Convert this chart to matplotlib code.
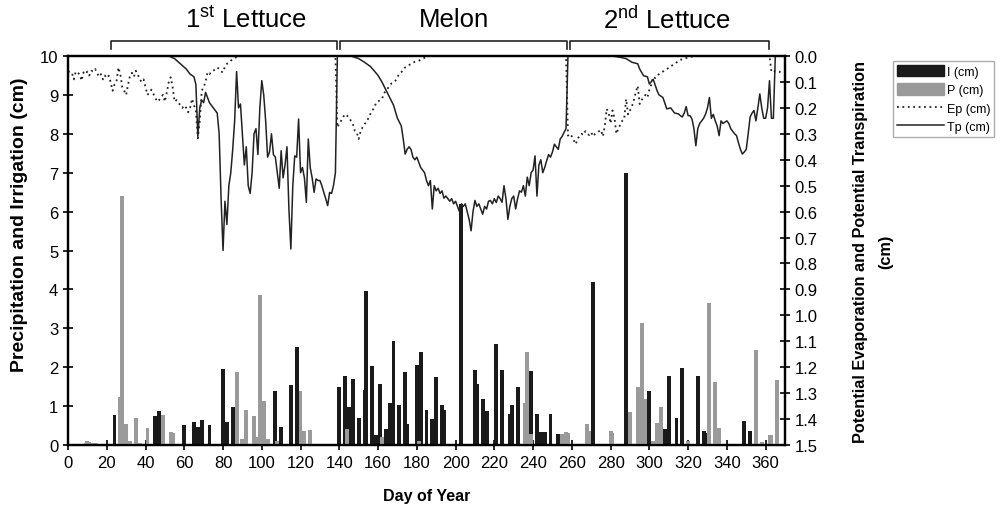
import numpy as np
import matplotlib
matplotlib.use("Agg")
import matplotlib.pyplot as plt
from matplotlib.patches import Patch
from matplotlib.lines import Line2D

plt.rcParams["font.family"] = ["Liberation Sans", "DejaVu Sans"]
plt.rcParams["mathtext.fontset"] = "custom"
plt.rcParams["mathtext.rm"] = "Liberation Sans"

# irrigation (cm), day of year -> depth
i_day = [24, 45, 47, 60, 65, 67, 69, 73, 80, 82, 85, 107, 110, 115, 118,
         140, 143, 145, 147, 150, 153, 154, 157, 159, 161, 164, 166, 168, 171,
         174, 175, 180, 182, 185, 188, 190, 193, 194, 203, 210, 211, 214, 216,
         221, 224, 228, 229, 232, 239, 242, 244, 245, 246, 249, 253,
         271, 288, 300, 308, 310, 314, 317, 325, 328, 329, 349, 352]
i_val = [0.77, 0.75, 0.87, 0.52, 0.6, 0.45, 0.63, 0.52, 1.95, 0.6, 0.97, 1.4, 0.45, 1.54, 2.51,
         1.48, 1.78, 0.97, 1.7, 0.69, 1.41, 3.95, 2.02, 0.26, 1.58, 0.41, 1.08, 2.67, 1.03,
         1.87, 0.54, 2.06, 2.38, 0.91, 0.66, 1.76, 1.04, 0.91, 6.2, 1.93, 1.57, 1.17, 0.87,
         2.6, 1.94, 0.8, 1.03, 1.48, 1.91, 0.79, 0.33, 0.33, 0.33, 0.79, 0.28,
         4.18, 7.0, 1.4, 0.4, 1.78, 0.69, 1.98, 1.77, 0.35, 0.3, 0.61, 0.37]

# precipitation (cm)
p_day = [3, 6, 9, 10, 11, 13, 14, 17, 27, 28, 30, 32, 35, 37, 41, 49, 53, 54,
         87, 90, 92, 96, 97, 99, 101, 103, 108, 120, 122, 125,
         144, 162, 181, 236, 237, 239, 255, 257, 258,
         268, 269, 280, 281, 290, 294, 296, 298, 302, 304, 306, 320,
         331, 334, 336, 355, 358, 362, 363, 366]
p_val = [0.03, 0.03, 0.05, 0.1, 0.08, 0.05, 0.04, 0.03, 1.23, 6.4, 0.55, 0.1, 0.69, 0.05, 0.44, 0.77, 0.34, 0.32,
         1.87, 0.15, 0.9, 0.75, 0.2, 3.85, 1.12, 0.15, 0.1, 1.4, 0.35, 0.39,
         0.41, 0.2, 0.1, 1.08, 2.4, 0.28, 0.28, 0.33, 0.3,
         0.54, 0.37, 0.37, 0.3, 0.84, 1.5, 3.13, 1.18, 0.1, 0.57, 0.98, 0.1,
         3.64, 1.61, 0.44, 2.43, 0.08, 0.25, 0.25, 1.68]

# potential evaporation Ep (cm), read day by day, zero between crop starts
ep_day = (list(range(0, 89)) + [138] + list(range(139, 187)) + [257] +
          list(range(258, 324)) + [362] + list(range(363, 370)))
ep_val = ([0.06,
           0.06, 0.065, 0.09, 0.06, 0.065, 0.07, 0.095, 0.063, 0.07, 0.06,
           0.075, 0.057, 0.06, 0.05, 0.065, 0.08, 0.07, 0.09, 0.075, 0.085,
           0.076, 0.1, 0.134, 0.11, 0.1, 0.044, 0.07, 0.12, 0.134, 0.15,
           0.11, 0.076, 0.065, 0.08, 0.057, 0.07, 0.09, 0.1, 0.09, 0.12,
           0.15, 0.14, 0.13, 0.145, 0.16, 0.176, 0.17, 0.16, 0.15, 0.176,
           0.14, 0.1, 0.082, 0.12, 0.176, 0.17, 0.18, 0.19, 0.2, 0.19,
           0.2, 0.217, 0.2, 0.165, 0.19, 0.21, 0.317, 0.25, 0.134, 0.12,
           0.1, 0.063, 0.07, 0.06, 0.057, 0.05, 0.044, 0.05, 0.06, 0.063,
           0.04, 0.03, 0.025, 0.018, 0.012, 0.008, 0.004, 0.0] +
          [0.0] +
          [0.275, 0.26, 0.249, 0.235, 0.224, 0.23, 0.237, 0.25, 0.262, 0.288,
           0.294, 0.32, 0.29, 0.275, 0.262, 0.256, 0.24, 0.224, 0.21, 0.2,
           0.18, 0.176, 0.17, 0.166, 0.145, 0.134, 0.125, 0.114, 0.105, 0.1,
           0.095, 0.08, 0.07, 0.063, 0.05, 0.044, 0.04, 0.035, 0.03, 0.026,
           0.022, 0.02, 0.018, 0.014, 0.01, 0.007, 0.005, 0.0] +
          [0.0] +
          [0.307, 0.3, 0.31, 0.325, 0.34, 0.32, 0.307, 0.3, 0.305, 0.29,
           0.3, 0.305, 0.295, 0.31, 0.3, 0.295, 0.29, 0.285, 0.31, 0.27,
           0.204, 0.22, 0.26, 0.21, 0.24, 0.3, 0.28, 0.265, 0.25, 0.245,
           0.166, 0.225, 0.21, 0.195, 0.17, 0.14, 0.115, 0.185, 0.17, 0.16,
           0.15, 0.16, 0.13, 0.11, 0.08, 0.085, 0.075, 0.07, 0.065, 0.06,
           0.055, 0.05, 0.046, 0.04, 0.035, 0.03, 0.025, 0.02, 0.015, 0.012,
           0.01, 0.008, 0.006, 0.004, 0.002, 0.0] +
          [0.0] +
          [0.06, 0.055, 0.06, 0.06, 0.062, 0.058, 0.06])

# potential transpiration Tp (cm)
tp_day = [0, 52, 55, 58, 61, 63, 65, 66, 67, 68, 69, 70, 71, 72, 73, 75, 77, 78, 79,
          80, 81, 82, 83, 84, 85, 86, 87, 88, 89, 90, 91, 92, 93, 94, 95, 96, 97, 98, 99,
          100, 101, 102, 103, 104, 105, 106, 107, 108, 109, 110, 111, 112, 113, 114, 115,
          116, 117, 118, 119, 120, 121, 122, 123, 124, 125, 126, 127, 128, 129, 130, 131,
          132, 133, 134, 135, 136, 137, 138, 139,
          146, 150, 153, 156, 158, 160, 162, 164, 166, 168, 170, 172, 173, 174, 175, 176,
          177, 178, 179, 180, 181, 182, 183, 184, 185, 186, 187, 188, 189, 190, 191, 192,
          193, 194, 195, 196, 197, 198, 199, 200, 201, 202, 203, 204, 205, 206, 207, 208,
          209, 210, 211, 212, 213, 214, 215, 216, 217, 218, 219, 220, 221, 222, 223, 224,
          225, 226, 227, 228, 229, 230, 231, 232, 233, 234, 235, 236, 237, 238, 239, 240,
          241, 242, 243, 244, 245, 246, 247, 248, 249, 250, 251, 252, 253, 254, 255, 256,
          257, 258,
          281, 285, 288, 291, 294, 295, 297, 299, 300, 302, 304, 305, 307, 309, 311, 313,
          315, 316, 317, 318, 319, 320, 321, 322, 323, 324, 325, 326, 327, 328, 329, 330,
          331, 332, 333, 334, 335, 336, 337, 338, 339, 340, 341, 342, 343, 344, 345, 346,
          347, 348, 349, 350, 351, 352, 353, 354, 355, 356, 357, 358, 359, 360, 361, 362,
          363, 364, 365, 370]
tp_val = [0, 0, 0.01, 0.03, 0.05, 0.07, 0.08, 0.11, 0.31, 0.2, 0.17, 0.18, 0.14, 0.16, 0.18, 0.2, 0.22, 0.3, 0.55,
          0.75, 0.56, 0.65, 0.5, 0.45, 0.36, 0.25, 0.06, 0.2, 0.185, 0.3, 0.42, 0.35, 0.5, 0.53, 0.45, 0.3, 0.28, 0.38, 0.2,
          0.095, 0.15, 0.25, 0.39, 0.37, 0.3, 0.38, 0.39, 0.45, 0.51, 0.365, 0.47, 0.42, 0.35, 0.59, 0.744,
          0.5, 0.385, 0.39, 0.243, 0.45, 0.43, 0.47, 0.564, 0.32, 0.43, 0.47, 0.526, 0.474, 0.48, 0.48, 0.5,
          0.526, 0.55, 0.577, 0.526, 0.53, 0.5, 0.45, 0.0,
          0.0, 0.01, 0.024, 0.04, 0.057, 0.075, 0.1, 0.13, 0.16, 0.19, 0.24, 0.27, 0.32, 0.378, 0.36, 0.35,
          0.36, 0.39, 0.4, 0.39, 0.41, 0.43, 0.44, 0.45, 0.48, 0.5, 0.48, 0.59, 0.5, 0.52, 0.51, 0.53,
          0.52, 0.548, 0.54, 0.55, 0.56, 0.55, 0.57, 0.56, 0.58, 0.6, 0.57, 0.58, 0.57, 0.6, 0.63, 0.674,
          0.6, 0.557, 0.58, 0.57, 0.59, 0.61, 0.58, 0.59, 0.56, 0.557, 0.57, 0.55, 0.565, 0.54, 0.55, 0.564,
          0.5, 0.55, 0.63, 0.58, 0.55, 0.54, 0.59, 0.55, 0.52, 0.525, 0.5, 0.54, 0.467, 0.5, 0.45, 0.44,
          0.385, 0.54, 0.42, 0.4, 0.45, 0.43, 0.404, 0.38, 0.39, 0.37, 0.34, 0.35, 0.36, 0.32, 0.31, 0.294,
          0.28, 0.0,
          0.0, 0.005, 0.01, 0.024, 0.03, 0.05, 0.076, 0.08, 0.108, 0.09, 0.134, 0.15, 0.16, 0.204, 0.2, 0.22,
          0.223, 0.23, 0.235, 0.22, 0.195, 0.23, 0.23, 0.243, 0.28, 0.346, 0.28, 0.26, 0.25, 0.24, 0.224, 0.2,
          0.16, 0.24, 0.225, 0.25, 0.27, 0.307, 0.25, 0.26, 0.255, 0.25, 0.26, 0.28, 0.29, 0.3, 0.307, 0.335,
          0.36, 0.378, 0.37, 0.36, 0.3, 0.235, 0.22, 0.21, 0.25, 0.2, 0.146, 0.2, 0.24, 0.24, 0.2, 0.095,
          0.24, 0.24, 0.0, 0.0]

# crop seasons shown above the plot
seasons = [r"1$^{\rm st}$ Lettuce", "Melon", r"2$^{\rm nd}$ Lettuce"]
season_start = [22, 140.5, 259]
season_end = [139, 257.5, 362]
season_label_x = [92, 199, 309]

fig = plt.figure(figsize=(10, 5.1), dpi=100)
ax = fig.add_axes([0.068, 0.1255, 0.717, 0.7627])

ax.bar(i_day, i_val, width=2.0, color="#1a1a1a", zorder=2)
ax.bar(p_day, p_val, width=2.0, color="#9a9a9a", zorder=3)
ax.set_xlim(0, 370)
ax.set_ylim(0, 10)
ax.set_xticks(np.arange(0, 361, 20))
ax.set_yticks(np.arange(0, 11, 1))
ax.set_xlabel("Day of Year", fontsize=11.5, fontweight="bold", labelpad=13)
ax.set_ylabel("Precipitation and Irrigation (cm)", fontsize=14, fontweight="bold")
ax.yaxis.set_label_coords(-0.056, 0.57)

ax2 = ax.twinx()
ax2.plot(ep_day, ep_val, linestyle=(0, (1, 2)), color="#222222", lw=1.3)
ax2.plot(tp_day, tp_val, "-", color="#222222", lw=1.1)
ax2.set_ylim(1.5, 0)
ax2.set_yticks(np.arange(0, 1.51, 0.1))
ax2.set_yticklabels([f"{v:.1f}" for v in np.arange(0, 1.51, 0.1)])
ax2.set_ylabel("Potential Evaporation and Potential Transpiration\n(cm)",
               fontsize=11.7, fontweight="bold", labelpad=25, linespacing=1.9)

for a in (ax, ax2):
    a.tick_params(direction="inout", length=7, width=1.2, labelsize=12)
    for s in a.spines.values():
        s.set_linewidth(1.6)

# season brackets
tr = ax.get_xaxis_transform()
for name, s, e, lx in zip(seasons, season_start, season_end, season_label_x):
    ax.plot([s, s, e, e], [1.018, 1.038, 1.038, 1.018], color="#222222", lw=1.2,
            transform=tr, clip_on=False)
    ax.text(lx, 1.095, name, transform=tr, ha="center", va="center", fontsize=18.5)

handles = [Patch(color="#1a1a1a"), Patch(color="#9a9a9a"),
           Line2D([], [], color="#222222", linestyle=(0, (1, 2)), lw=1.3),
           Line2D([], [], color="#222222", lw=1.1)]
fig.legend(handles, ["I (cm)", "P (cm)", "Ep (cm)", "Tp (cm)"], loc="upper left",
           bbox_to_anchor=(0.893, 0.878), fontsize=9, handlelength=3.8, handleheight=1.0,
           fancybox=False, edgecolor="#999999", borderpad=0.3, labelspacing=0.45,
           handletextpad=0.2, borderaxespad=0)

fig.savefig("out.png", dpi=100)
